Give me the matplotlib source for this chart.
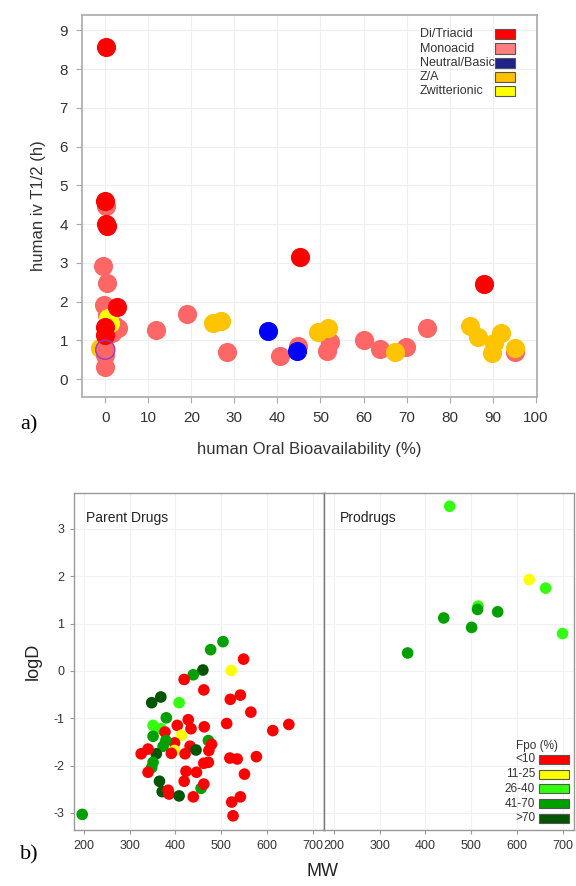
import matplotlib
matplotlib.use("Agg")
import matplotlib.pyplot as plt
from matplotlib.patches import Rectangle

plt.rcParams['font.family'] = ['Liberation Sans', 'DejaVu Sans']
plt.rcParams['axes.unicode_minus'] = False

# ---- panel a: human oral bioavailability vs iv half-life ----
mono_x = [0.4, -0.5, -0.3, 0.2, 0.5, 1.5, 2.2, 3.0, 0.0, 0.0, 0.0, 11.9, 19.1, 28.2, 40.5,
          44.7, 51.6, 52.3, 60.1, 63.8, 69.8, 74.7, 95.1]
mono_y = [2.48, 2.91, 1.91, 4.48, 1.66, 1.19, 1.36, 1.32, 0.62, 0.32, 0.78, 1.26, 1.69, 0.71, 0.60,
          0.85, 0.73, 0.96, 1.02, 0.78, 0.84, 1.32, 0.71]
za_x = [-1.3, 25.0, 26.8, 49.5, 51.8, 67.3, 84.8, 86.5, 92.0, 90.3, 89.8, 95.3]
za_y = [0.80, 1.45, 1.51, 1.23, 1.32, 0.71, 1.36, 1.10, 1.19, 0.93, 0.67, 0.80]
nb_x = [37.9, 44.6]
nb_y = [1.25, 0.74]
nb_open_x = [0.0]
nb_open_y = [0.76]
zw_x = [0.7, 1.0]
zw_y = [1.57, 1.45]
di_x = [0.2, 0.0, 0.1, 0.3, 2.7, 0.0, 0.0, 45.2, 87.9]
di_y = [8.57, 4.59, 4.01, 3.96, 1.87, 1.35, 1.14, 3.16, 2.45]

cat_names = ['Di/Triacid', 'Monoacid', 'Neutral/Basic', 'Z/A', 'Zwitterionic']
cat_legend_colors = ['#ff0000', '#ff7f7f', '#22228b', '#ffc000', '#ffff00']
point_colors = {'Di/Triacid': '#ff0000', 'Monoacid': '#ff6666', 'Neutral/Basic': '#0000ff',
                'Z/A': '#ffc400', 'Zwitterionic': '#ffff00'}

# ---- panel b: MW vs logD, coloured by Fpo ----
fpo_names = ['<10', '11-25', '26-40', '41-70', '>70']
fpo_colors = ['#ff0000', '#ffff00', '#33ff11', '#00a000', '#005500']

parent_mw = [196, 504, 477, 549, 522, 460, 439, 419, 462, 520, 542, 565, 512, 613, 648,
             519, 535, 577, 551, 542, 523, 526, 348, 368, 408, 380, 351, 368, 351, 377,
             404, 428, 434, 463, 413, 398, 379, 373, 358, 340, 325, 398, 391, 421, 432,
             445, 472, 479, 473, 351, 348, 340, 423, 446, 462, 472, 419, 365, 371, 384,
             386, 408, 439, 456, 462]
parent_logd = [-3.03, 0.62, 0.45, 0.25, 0.01, 0.02, -0.08, -0.18, -0.40, -0.60, -0.51, -0.87, -1.11, -1.26, -1.13,
               -1.84, -1.86, -1.81, -2.18, -2.66, -2.77, -3.06, -0.67, -0.55, -0.67, -0.99, -1.15, -1.22, -1.38, -1.29,
               -1.15, -1.03, -1.22, -1.18, -1.36, -1.52, -1.47, -1.59, -1.75, -1.65, -1.75, -1.68, -1.74, -1.75, -1.59,
               -1.67, -1.47, -1.55, -1.68, -1.93, -2.04, -2.14, -2.12, -2.14, -1.95, -1.93, -2.33, -2.33, -2.55, -2.52,
               -2.60, -2.64, -2.66, -2.48, -2.39]
parent_fpo = [3, 3, 3, 0, 1, 4, 3, 0, 0, 0, 0, 0, 0, 0, 0,
              0, 0, 0, 0, 0, 0, 0, 4, 4, 2, 3, 2, 2, 3, 0,
              0, 0, 0, 0, 1, 0, 3, 3, 4, 0, 0, 1, 0, 0, 0,
              4, 3, 0, 0, 3, 3, 0, 0, 0, 0, 0, 0, 4, 4, 0,
              0, 4, 0, 3, 0]

pro_mw = [453, 627, 663, 515, 514, 558, 440, 501, 700, 361]
pro_logd = [3.48, 1.93, 1.75, 1.37, 1.30, 1.25, 1.12, 0.92, 0.79, 0.38]
pro_fpo = [2, 1, 2, 2, 3, 3, 3, 3, 2, 3]

fig = plt.figure(figsize=(5.76, 8.86), dpi=100)
W, H = 576.0, 886.0


def fx(px):
    return px / W


def fy(py):
    return 1 - py / H


# panel a
ax = fig.add_axes([fx(82), fy(397), fx(537) - fx(82), fy(15) - fy(397)])
s_a = 190
ax.scatter(za_x[:1], za_y[:1], s=s_a, c=point_colors['Z/A'], linewidths=0, zorder=2.5)
ax.scatter(mono_x, mono_y, s=s_a, c=point_colors['Monoacid'], linewidths=0, zorder=3)
ax.scatter(za_x[1:], za_y[1:], s=s_a, c=point_colors['Z/A'], linewidths=0, zorder=3)
ax.scatter(zw_x, zw_y, s=s_a, c=point_colors['Zwitterionic'], linewidths=0, zorder=3)
ax.scatter(di_x, di_y, s=s_a, c=point_colors['Di/Triacid'], linewidths=0, zorder=3)
ax.scatter(nb_x, nb_y, s=s_a, c=point_colors['Neutral/Basic'], linewidths=0, zorder=3)
ax.scatter(nb_open_x, nb_open_y, s=s_a, facecolors='none', edgecolors='#9040c8', linewidths=1.0, zorder=4)

ax.set_xlim(-5.4, 100.3)
ax.set_ylim(-0.46, 9.4)
ax.set_xticks(range(0, 101, 10))
ax.set_yticks(range(0, 10))
ax.grid(True, color='#eeeeee', linewidth=0.8, zorder=0)
ax.set_axisbelow(True)
for sp in ax.spines.values():
    sp.set_color('#aaaaaa')
    sp.set_linewidth(1.2)
ax.tick_params(colors='#aaaaaa', labelcolor='#333333', labelsize=11, length=4, pad=6)
ax.set_xlabel('human Oral Bioavailability (%)', fontsize=12, color='#333333', labelpad=12)
ax.set_ylabel('human iv T1/2 (h)', fontsize=12, color='#333333', labelpad=10)

for i, (name, col) in enumerate(zip(cat_names, cat_legend_colors)):
    yc = 34.3 + i * 14.2
    fig.text(fx(420), fy(yc), name, fontsize=9, color='#333333', va='center', ha='left')
    fig.add_artist(Rectangle((fx(495), fy(yc + 5)), fx(20), fy(0) - fy(10),
                             transform=fig.transFigure, facecolor=col, edgecolor='#555555', linewidth=0.8))

fig.text(fx(20), fy(425), 'a)', fontsize=16, family=['Liberation Serif', 'DejaVu Serif'], va='center')

# panel b
axl = fig.add_axes([fx(74), fy(830), fx(324) - fx(74), fy(493) - fy(830)])
axr = fig.add_axes([fx(324), fy(830), fx(574) - fx(324), fy(493) - fy(830)], sharey=axl)
s_b = 70
axl.scatter(parent_mw, parent_logd, s=s_b, c=[fpo_colors[k] for k in parent_fpo], linewidths=0, zorder=3)
axr.scatter(pro_mw, pro_logd, s=s_b, c=[fpo_colors[k] for k in pro_fpo], linewidths=0, zorder=3)

for a in (axl, axr):
    a.set_xlim(178, 725)
    a.set_xticks(range(200, 701, 100))
    a.grid(True, color='#eef2f2', linewidth=0.8, zorder=0)
    a.set_axisbelow(True)
    for sp in a.spines.values():
        sp.set_color('#999999')
        sp.set_linewidth(1.0)
    a.tick_params(colors='#999999', labelcolor='#333333', labelsize=9, length=3, pad=4)
axl.spines['right'].set_color('#777777')
axr.spines['left'].set_color('#777777')
axl.set_ylim(-3.36, 3.76)
axl.set_yticks(range(-3, 4))
axr.tick_params(axis='y', left=False, labelleft=False)
axl.set_ylabel('logD', fontsize=13, color='#222222', labelpad=8)
fig.text(fx(323), fy(872), 'MW', fontsize=13, color='#222222', ha='center', va='center')
axl.text(0.05, 0.915, 'Parent Drugs', transform=axl.transAxes, fontsize=10, color='#222222')
axr.text(0.065, 0.915, 'Prodrugs', transform=axr.transAxes, fontsize=10, color='#222222')

fig.text(fx(537), fy(746), 'Fpo (%)', fontsize=8.5, color='#333333', ha='center', va='center')
for i, (name, col) in enumerate(zip(fpo_names, fpo_colors)):
    yc = 759.3 + i * 14.75
    fig.text(fx(535), fy(yc), name, fontsize=8.5, color='#333333', va='center', ha='right')
    fig.add_artist(Rectangle((fx(539), fy(yc + 4.5)), fx(30), fy(0) - fy(9),
                             transform=fig.transFigure, facecolor=col, edgecolor='#555555', linewidth=0.8))

fig.text(fx(20), fy(855), 'b)', fontsize=16, family=['Liberation Serif', 'DejaVu Serif'], va='center')

fig.savefig('out.png', dpi=100)
